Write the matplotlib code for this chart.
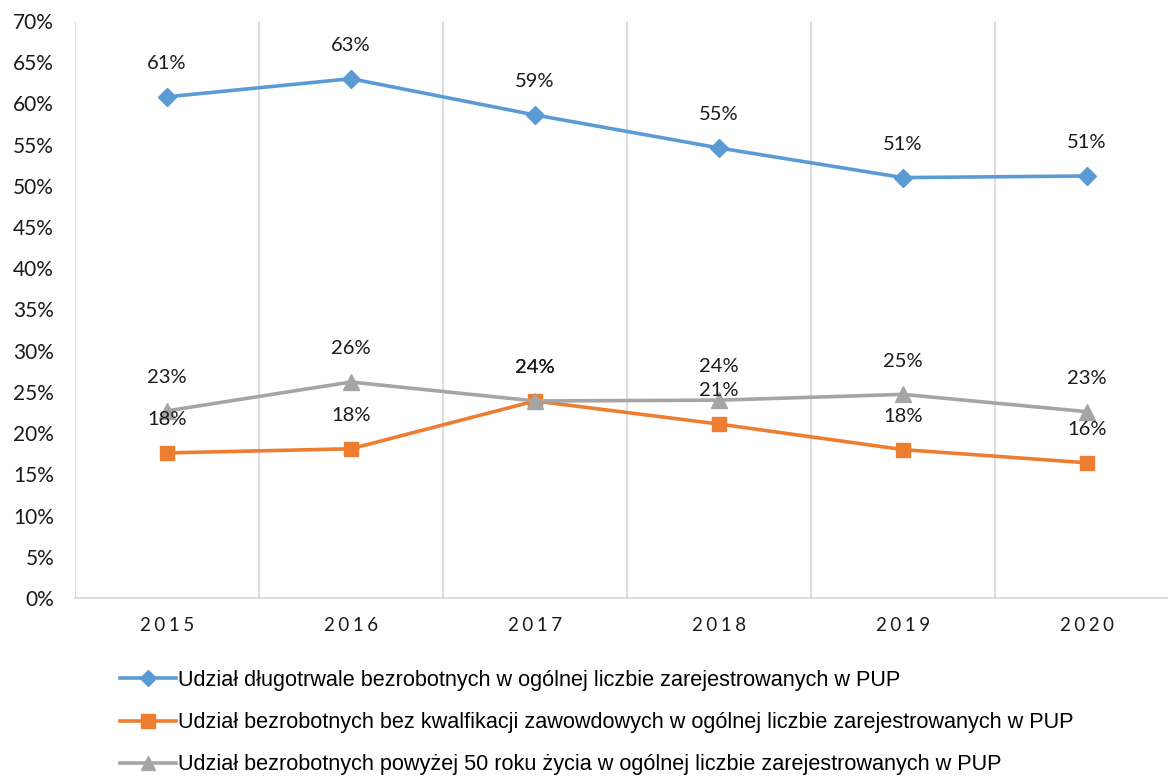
import matplotlib.pyplot as plt

plt.rcParams['font.family'] = ['Lato', 'DejaVu Sans']

years = ['2015', '2016', '2017', '2018', '2019', '2020']
dlugotrwale = [60.8, 63.0, 58.6, 54.6, 51.0, 51.2]
bez_kwalifikacji = [17.6, 18.1, 23.9, 21.1, 18.0, 16.4]
powyzej_50 = [22.7, 26.2, 23.9, 24.0, 24.7, 22.6]

labels = [
    'Udział długotrwale bezrobotnych w ogólnej liczbie zarejestrowanych w PUP',
    'Udział bezrobotnych bez kwalfikacji zawowdowych w ogólnej liczbie zarejestrowanych w PUP',
    'Udział bezrobotnych powyżej 50 roku życia w ogólnej liczbie zarejestrowanych w PUP',
]

fig = plt.figure(figsize=(11.68, 7.78), dpi=100)
ax = fig.add_axes([0.0642, 0.2314, 0.9452, 0.7416])

x = list(range(len(years)))
series = [
    (dlugotrwale, '#5B9BD5', 'D', 9),
    (bez_kwalifikacji, '#ED7D31', 's', 10),
    (powyzej_50, '#A5A5A5', '^', 11),
]
for (vals, color, marker, ms), lab in zip(series, labels):
    ax.plot(x, vals, color=color, lw=2.6, marker=marker, markersize=ms, label=lab)
    for xi, v in zip(x, vals):
        ax.annotate(f'{round(v):.0f}%', (xi, v), xytext=(0, 24), textcoords='offset points',
                    ha='center', va='center', fontsize=14.5, color='#1a1a1a')

ax.set_xlim(-0.5, 5.5)
ax.set_ylim(0, 70)
ax.set_yticks(range(0, 71, 5))
ax.set_yticklabels([f'{v}%' for v in range(0, 71, 5)], fontsize=15, color='#1a1a1a')
ax.set_xticks(x)
ax.set_xticklabels(['\u2009\u200a'.join(y) for y in years], fontsize=13.5, color='#1a1a1a')
ax.set_xticks([i - 0.5 for i in range(7)], minor=True)
ax.grid(True, which='minor', axis='x', color='#d9d9d9', lw=1.3)
ax.tick_params(axis='both', which='both', length=0)
ax.tick_params(axis='y', pad=15)
ax.tick_params(axis='x', pad=14)
for s in ['top', 'right', 'left']:
    ax.spines[s].set_visible(False)
ax.spines['bottom'].set_color('#d9d9d9')
ax.spines['bottom'].set_linewidth(1.3)

fig.legend(loc='upper left', bbox_to_anchor=(0.103, 0.139), frameon=False,
           prop={'family': ['Liberation Sans', 'DejaVu Sans'], 'size': 15.6},
           handlelength=2.55, handletextpad=0.1, labelspacing=0.98, borderaxespad=0,
           borderpad=0, markerscale=0.95)

fig.savefig('out.png', dpi=100)
